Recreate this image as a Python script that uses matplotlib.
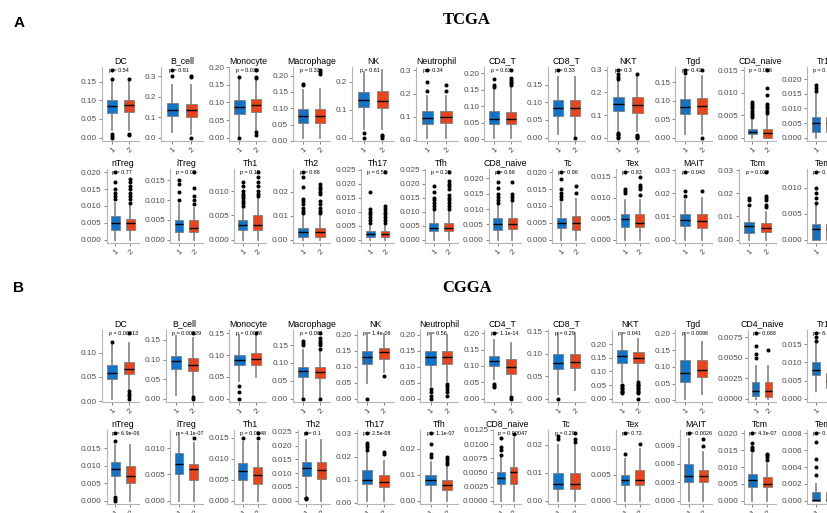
import matplotlib
matplotlib.use('Agg')
import matplotlib.pyplot as plt

plt.rcParams['font.family'] = 'Liberation Sans'

# cell types (two rows of twelve, the last column is cut off in the figure)
cells = ['DC', 'B_cell', 'Monocyte', 'Macrophage', 'NK', 'Neutrophil', 'CD4_T', 'CD8_T',
         'NKT', 'Tgd', 'CD4_naive', 'Tr1',
         'nTreg', 'iTreg', 'Th1', 'Th2', 'Th17', 'Tfh', 'CD8_naive', 'Tc', 'Tex', 'MAIT',
         'Tcm', 'Tem']
groups = ['1', '2']

# ---------------- TCGA ----------------
p_tcga = ['p = 0.54', 'p = 0.91', 'p = 0.033', 'p = 0.33', 'p = 0.61', 'p = 0.34',
          'p = 0.63', 'p = 0.33', 'p = 0.3', 'p = 0.42', 'p = 0.088', 'p = 0.16',
          'p = 0.77', 'p = 0.09', 'p = 0.19', 'p = 0.88', 'p = 0.52', 'p = 0.29',
          'p = 0.68', 'p = 0.98', 'p = 0.83', 'p = 0.043', 'p = 0.029', 'p = 0.25']
ticks_tcga = [['0.00', '0.05', '0.10', '0.15'], ['0.0', '0.1', '0.2', '0.3'],
              ['0.00', '0.05', '0.10', '0.15', '0.20'], ['0.00', '0.05', '0.10', '0.15', '0.20'],
              ['0.0', '0.1', '0.2'], ['0.0', '0.1', '0.2', '0.3'],
              ['0.00', '0.05', '0.10', '0.15', '0.20'], ['0.00', '0.05', '0.10', '0.15'],
              ['0.0', '0.1', '0.2', '0.3'], ['0.00', '0.05', '0.10', '0.15'],
              ['0.000', '0.005', '0.010', '0.015'], ['0.000', '0.005', '0.010', '0.015', '0.020'],
              ['0.000', '0.005', '0.010', '0.015', '0.020'], ['0.000', '0.005', '0.010', '0.015'],
              ['0.000', '0.005', '0.010'], ['0.00', '0.01', '0.02'],
              ['0.000', '0.005', '0.010', '0.015', '0.020', '0.025'],
              ['0.000', '0.005', '0.010', '0.015', '0.020', '0.025'],
              ['0.000', '0.005', '0.010', '0.015', '0.020'],
              ['0.000', '0.005', '0.010', '0.015', '0.020'],
              ['0.000', '0.005', '0.010', '0.015'], ['0.00', '0.01', '0.02', '0.03'],
              ['0.00', '0.01', '0.02', '0.03'], ['0.000', '0.005', '0.010']]
# whisker low, q1, median, q3, whisker high
box1_tcga = [[0.02, 0.066, 0.085, 0.100, 0.148], [0.03, 0.105, 0.138, 0.170, 0.26],
             [0.005, 0.068, 0.088, 0.107, 0.165], [0.01, 0.056, 0.077, 0.097, 0.155],
             [0.03, 0.108, 0.136, 0.162, 0.235], [0.01, 0.070, 0.095, 0.125, 0.19],
             [0.005, 0.045, 0.063, 0.085, 0.15], [0.01, 0.060, 0.085, 0.107, 0.17],
             [0.03, 0.120, 0.148, 0.178, 0.25], [0.01, 0.065, 0.083, 0.105, 0.165],
             [0.0, 0.0008, 0.0012, 0.0019, 0.004], [0.0, 0.002, 0.005, 0.007, 0.015],
             [0.0, 0.003, 0.005, 0.007, 0.011], [0.0, 0.002, 0.004, 0.005, 0.009],
             [0.0, 0.002, 0.003, 0.004, 0.0065], [0.0, 0.001, 0.003, 0.005, 0.010],
             [0.0, 0.001, 0.002, 0.003, 0.005], [0.0, 0.003, 0.004, 0.006, 0.010],
             [0.0, 0.003, 0.005, 0.007, 0.011], [0.0, 0.0035, 0.005, 0.0065, 0.011],
             [0.0, 0.003, 0.005, 0.006, 0.0095], [0.0, 0.006, 0.0085, 0.011, 0.017],
             [0.0, 0.003, 0.006, 0.0075, 0.013], [0.0, 0.0, 0.002, 0.003, 0.0065]]
out1_tcga = [[0.157, 0.18, 0.0, 0.004, 0.010], [0.30, 0.33], [0.172, 0.0], [0.170, 0.173],
             [0.0, 0.015], [0.21, 0.25, 0.30], [0.16, 0.165, 0.183], [0.19],
             [0.26, 0.27, 0.28, 0.298, 0.0, 0.005, 0.01, 0.015, 0.02], [0.175, 0.182],
             [0.0045, 0.005, 0.0055, 0.006, 0.0065, 0.007, 0.0075, 0.008], [0.016, 0.017, 0.018],
             [0.012, 0.013, 0.014, 0.015, 0.017, 0.020], [0.010, 0.012, 0.014, 0.015],
             [0.007, 0.0075, 0.008, 0.0085, 0.009, 0.0095, 0.010, 0.011, 0.012],
             [0.011, 0.012, 0.013, 0.015, 0.016, 0.017, 0.022, 0.026, 0.028],
             [0.006, 0.007, 0.008, 0.009, 0.010, 0.011, 0.017],
             [0.011, 0.012, 0.013, 0.014, 0.015, 0.017, 0.019],
             [0.012, 0.013, 0.014, 0.015, 0.017, 0.019, 0.022],
             [0.012, 0.013, 0.014, 0.015, 0.018, 0.020], [0.011, 0.0115, 0.012, 0.016],
             [0.019, 0.021, 0.029], [0.015, 0.017, 0.018], [0.007, 0.008, 0.009, 0.010, 0.013]]
box2_tcga = [[0.02, 0.068, 0.086, 0.100, 0.148], [0.02, 0.100, 0.138, 0.166, 0.26],
             [0.02, 0.073, 0.093, 0.110, 0.165], [0.01, 0.055, 0.077, 0.097, 0.16],
             [0.03, 0.105, 0.132, 0.165, 0.24], [0.01, 0.072, 0.097, 0.125, 0.19],
             [0.005, 0.045, 0.062, 0.082, 0.155], [0.005, 0.060, 0.083, 0.105, 0.17],
             [0.03, 0.110, 0.145, 0.180, 0.27], [0.01, 0.065, 0.086, 0.107, 0.168],
             [0.0, 0.0, 0.001, 0.002, 0.0048], [0.0, 0.002, 0.005, 0.007, 0.014],
             [0.0, 0.003, 0.005, 0.006, 0.010], [0.0, 0.002, 0.003, 0.005, 0.008],
             [0.0, 0.002, 0.003, 0.005, 0.0085], [0.0, 0.001, 0.003, 0.005, 0.010],
             [0.0, 0.001, 0.002, 0.003, 0.005], [0.0, 0.003, 0.004, 0.006, 0.010],
             [0.0, 0.0035, 0.005, 0.007, 0.012], [0.0, 0.003, 0.005, 0.007, 0.012],
             [0.0, 0.003, 0.004, 0.006, 0.0095], [0.0, 0.005, 0.008, 0.011, 0.018],
             [0.0, 0.0035, 0.005, 0.007, 0.012], [0.0, 0.0, 0.002, 0.003, 0.006]]
out2_tcga = [[0.157, 0.006, 0.009], [0.298, 0.302, 0.0], [0.168, 0.172, 0.191, 0.008, 0.015],
             [0.205, 0.21, 0.216], [0.0, 0.005, 0.01], [0.21, 0.235],
             [0.165, 0.17, 0.175, 0.18, 0.185, 0.209], [0.0],
             [0.28, 0.0, 0.003, 0.006, 0.01], [0.182, 0.0],
             [0.0055, 0.006, 0.0065, 0.007, 0.0075, 0.0095, 0.011, 0.015], [0.016, 0.018, 0.023],
             [0.011, 0.012, 0.013, 0.014, 0.015, 0.016, 0.017, 0.018],
             [0.009, 0.010, 0.011, 0.013, 0.017],
             [0.009, 0.0095, 0.010, 0.011, 0.012, 0.013, 0.0139],
             [0.011, 0.012, 0.013, 0.015, 0.016, 0.019, 0.020, 0.021, 0.022, 0.023],
             [0.006, 0.007, 0.008, 0.009, 0.010, 0.011, 0.012, 0.024],
             [0.011, 0.012, 0.013, 0.014, 0.015, 0.016, 0.018, 0.019, 0.020, 0.021, 0.024],
             [0.013, 0.014, 0.015, 0.019], [0.014, 0.016],
             [0.0105, 0.012, 0.0125, 0.013, 0.015], [0.021],
             [0.014, 0.015, 0.017, 0.018, 0.019, 0.029], []]

# ---------------- CGGA ----------------
p_cgga = ['p = 0.00013', 'p = 0.00029', 'p = 0.0078', 'p = 0.081', 'p = 1.4e-08', 'p = 0.56',
          'p = 1.1e-14', 'p = 0.29', 'p = 0.041', 'p = 0.0098', 'p = 0.088', 'p = 6.4e-05',
          'p = 6.9e-06', 'p = 4.1e-07', 'p = 0.0048', 'p = 0.1', 'p = 2.5e-08', 'p = 1.1e-07',
          'p = 0.00047', 'p = 0.29', 'p = 0.72', 'p = 0.0026', 'p = 4.3e-07', 'p = 0.84']
ticks_cgga = [['0.00', '0.05', '0.10'], ['0.00', '0.05', '0.10', '0.15'],
              ['0.00', '0.05', '0.10', '0.15'], ['0.00', '0.05', '0.10', '0.15'],
              ['0.00', '0.05', '0.10', '0.15', '0.20'], ['0.00', '0.05', '0.10', '0.15', '0.20'],
              ['0.00', '0.05', '0.10', '0.15', '0.20'], ['0.00', '0.05', '0.10', '0.15'],
              ['0.00', '0.05', '0.10', '0.15', '0.20'], ['0.00', '0.05', '0.10', '0.15', '0.20'],
              ['0.0000', '0.0025', '0.0050', '0.0075'], ['0.000', '0.005', '0.010', '0.015'],
              ['0.000', '0.005', '0.010', '0.015'], ['0.000', '0.005', '0.010'],
              ['0.000', '0.005', '0.010', '0.015'],
              ['0.000', '0.005', '0.010', '0.015', '0.020', '0.025'],
              ['0.00', '0.01', '0.02', '0.03'], ['0.00', '0.01', '0.02'],
              ['0.0000', '0.0025', '0.0050', '0.0075', '0.0100', '0.0125'],
              ['0.00', '0.01', '0.02'], ['0.000', '0.005', '0.010'],
              ['0.000', '0.003', '0.006', '0.009'],
              ['0.000', '0.005', '0.010', '0.015', '0.020'],
              ['0.000', '0.002', '0.004', '0.006', '0.008']]
box1_cgga = [[0.005, 0.045, 0.058, 0.075, 0.12], [0.01, 0.075, 0.095, 0.11, 0.16],
             [0.04, 0.077, 0.088, 0.10, 0.145], [0.005, 0.06, 0.077, 0.09, 0.135],
             [0.05, 0.11, 0.13, 0.15, 0.205], [0.04, 0.105, 0.13, 0.15, 0.205],
             [0.06, 0.10, 0.115, 0.13, 0.18], [0.01, 0.065, 0.08, 0.098, 0.145],
             [0.06, 0.13, 0.155, 0.18, 0.24], [0.005, 0.055, 0.083, 0.12, 0.20],
             [0.0, 0.0003, 0.001, 0.002, 0.004], [0.002, 0.0065, 0.008, 0.010, 0.015],
             [0.002, 0.007, 0.009, 0.011, 0.016], [0.0, 0.005, 0.007, 0.009, 0.0128],
             [0.0, 0.005, 0.007, 0.009, 0.014], [0.002, 0.009, 0.012, 0.014, 0.022],
             [0.001, 0.008, 0.010, 0.014, 0.022], [0.0, 0.006, 0.008, 0.010, 0.015],
             [0.0, 0.003, 0.004, 0.005, 0.0075], [0.0, 0.004, 0.006, 0.010, 0.020],
             [0.0, 0.003, 0.004, 0.005, 0.008], [0.0, 0.003, 0.004, 0.006, 0.010],
             [0.0, 0.004, 0.006, 0.008, 0.014], [0.0, 0.0, 0.0001, 0.001, 0.002]]
out1_cgga = [[0.123], [], [0.03, 0.015, 0.0], [0.15, 0.155, 0.16, 0.0],
             [0.0], [0.03, 0.02, 0.01, 0.0], [0.045, 0.04, 0.035, 0.20], [0.0],
             [0.05, 0.045, 0.04, 0.035, 0.03, 0.025, 0.02], [],
             [0.005, 0.0055, 0.0065, 0.008], [0.016, 0.017, 0.018],
             [0.017, 0.0193, 0.001, 0.0005, 0.0], [], [0.015],
             [0.001, 0.0008, 0.0005, 0.0245], [0.023, 0.024, 0.025, 0.026, 0.030],
             [0.017, 0.018, 0.022, 0.026], [0.008, 0.009, 0.0095, 0.011],
             [0.022, 0.023], [0.009, 0.013], [0.011], [0.015, 0.0155, 0.016, 0.017, 0.020],
             [0.003, 0.004, 0.005, 0.007, 0.008]]
box2_cgga = [[0.02, 0.055, 0.066, 0.08, 0.12], [0.01, 0.07, 0.087, 0.103, 0.155],
             [0.05, 0.078, 0.092, 0.105, 0.145], [0.005, 0.057, 0.075, 0.09, 0.13],
             [0.085, 0.125, 0.145, 0.16, 0.2], [0.055, 0.108, 0.13, 0.148, 0.2],
             [0.01, 0.075, 0.097, 0.12, 0.17], [0.02, 0.067, 0.082, 0.10, 0.145],
             [0.065, 0.13, 0.15, 0.17, 0.22], [0.02, 0.07, 0.09, 0.12, 0.175],
             [0.0, 0.0002, 0.001, 0.002, 0.004], [0.0, 0.003, 0.005, 0.007, 0.013],
             [0.0, 0.005, 0.007, 0.010, 0.016], [0.0, 0.004, 0.006, 0.007, 0.011],
             [0.0, 0.004, 0.006, 0.008, 0.014], [0.0, 0.008, 0.011, 0.014, 0.022],
             [0.001, 0.007, 0.009, 0.012, 0.018], [0.0, 0.004, 0.006, 0.008, 0.013],
             [0.0, 0.003, 0.005, 0.006, 0.011], [0.0, 0.004, 0.006, 0.010, 0.020],
             [0.0, 0.003, 0.004, 0.006, 0.010], [0.0, 0.003, 0.004, 0.005, 0.008],
             [0.0, 0.004, 0.005, 0.007, 0.011], [0.0, 0.0, 0.0001, 0.001, 0.002]]
out2_cgga = [[0.14, 0.005, 0.01, 0.015, 0.02], [0.167, 0.0, 0.005], [0.15],
             [0.14, 0.15, 0.155, 0.16, 0.17, 0.183, 0.0], [0.07],
             [0.045, 0.04, 0.03, 0.02, 0.01], [0.005, 0.0], [],
             [0.06, 0.055, 0.05, 0.045, 0.04, 0.035, 0.03, 0.025, 0.02, 0.0], [],
             [0.006], [], [], [0.012], [0.015, 0.016], [], [0.021, 0.022],
             [0.014, 0.015, 0.016, 0.017], [0.0118], [0.021, 0.022, 0.024],
             [0.011], [0.009, 0.010], [0.012, 0.013, 0.0135, 0.014], [0.003, 0.004]]

blue = '#1273C8'
red = '#E8451C'
fs_tick = 5.9
fs_px = fs_tick * 100 / 72

fig = plt.figure(figsize=(8.27, 5.13), dpi=100)
W, H = 827, 513


def add_panel(row_y, pvals, ticks, box1, out1, box2, out2):
    for k in range(24):
        r, c = divmod(k, 12)
        top, bot = row_y[r]
        cell_left = 78 + c * 63.7
        lab_w = sum(0.556 if ch.isdigit() else 0.278 for ch in max(ticks[k], key=len)) * fs_px
        left = cell_left + 4 + lab_w + 4
        right = cell_left + 61
        ax = fig.add_axes([left / W, 1 - bot / H, (right - left) / W, (bot - top) / H])

        stats = []
        for b, o in ((box1[k], out1[k]), (box2[k], out2[k])):
            stats.append(dict(whislo=b[0], q1=b[1], med=b[2], q3=b[3], whishi=b[4], fliers=o))
        bp = ax.bxp(stats, positions=[1, 2], widths=0.6, patch_artist=True, showcaps=False,
                    boxprops=dict(edgecolor='#7f7f7f', linewidth=0.6),
                    medianprops=dict(color='black', linewidth=1.0),
                    whiskerprops=dict(color='#8c8c8c', linewidth=1.3),
                    flierprops=dict(marker='o', markersize=1.9, markerfacecolor='black',
                                    markeredgecolor='black', linestyle='none'))
        for patch, col in zip(bp['boxes'], (blue, red)):
            patch.set_facecolor(col)
            patch.set_zorder(3)
        for med in bp['medians']:
            med.set_zorder(4)

        vals = box1[k] + box2[k] + out1[k] + out2[k]
        lo, hi = min(vals), max(vals)
        rng = hi - lo
        ax.set_ylim(lo - 0.05 * rng, hi + 0.05 * rng)
        ax.set_xlim(0.4, 2.6)
        ax.text(0.8, hi, pvals[k], fontsize=3.9, ha='left', va='center', color='black', zorder=5)
        ax.set_title(cells[k], fontsize=6.3, pad=2.5)

        ax.set_yticks([float(t) for t in ticks[k]], ticks[k])
        ax.set_xticks([1, 2], groups, rotation=45, ha='right', rotation_mode='anchor')
        ax.tick_params(axis='both', labelsize=fs_tick, length=2, width=0.5, color='#555555',
                       labelcolor='#4d4d4d', pad=1.5)
        for s in ('top', 'right'):
            ax.spines[s].set_visible(False)
        for s in ('left', 'bottom'):
            ax.spines[s].set_color('#b5b5b5')
            ax.spines[s].set_linewidth(0.8)


add_panel([(67, 141), (169, 243)], p_tcga, ticks_tcga, box1_tcga, out1_tcga, box2_tcga, out2_tcga)
add_panel([(330, 402), (430, 504)], p_cgga, ticks_cgga, box1_cgga, out1_cgga, box2_cgga, out2_cgga)

fig.text(19 / W, 1 - 23 / H, 'A', fontsize=11, fontweight='bold', ha='center', va='center')
fig.text(19 / W, 1 - 288 / H, 'B', fontsize=11, fontweight='bold', ha='center', va='center')
fig.text(467 / W, 1 - 20 / H, 'TCGA', fontsize=12, fontweight='bold', family='Liberation Serif',
         ha='center', va='center')
fig.text(467 / W, 1 - 288 / H, 'CGGA', fontsize=12, fontweight='bold', family='Liberation Serif',
         ha='center', va='center')

fig.savefig('out.png', dpi=100)
